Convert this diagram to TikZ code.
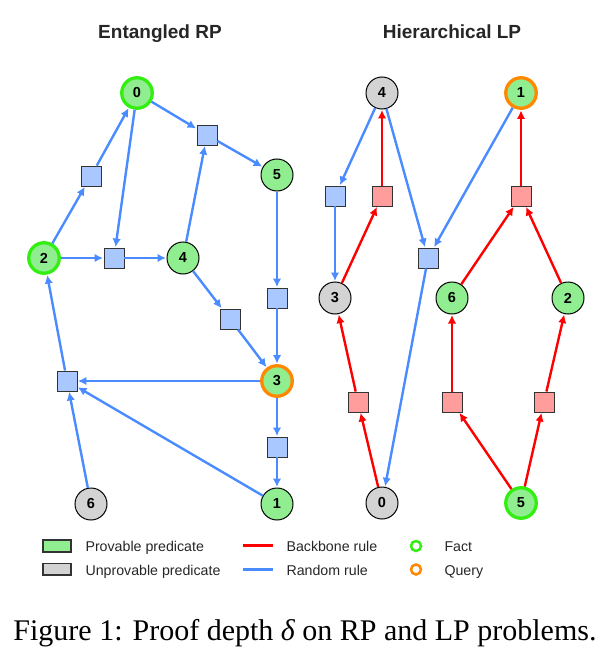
\documentclass[tikz,border=0pt]{standalone}
\usepackage{fontspec}
\setmainfont{Liberation Sans}
\newfontfamily\capfont{Liberation Serif}
\usepackage{tikz}
\usetikzlibrary{arrows.meta}
\definecolor{PGreen}{HTML}{90EE90}
\definecolor{PGray}{HTML}{D3D3D3}
\definecolor{RBlue}{HTML}{4A8CFF}
\definecolor{RBlueFill}{HTML}{A8C8FF}
\definecolor{RRed}{HTML}{FF0000}
\definecolor{RRedFill}{HTML}{FF9C9C}
\definecolor{FactRing}{HTML}{33EE11}
\definecolor{QueryRing}{HTML}{FF8800}
\definecolor{TxtGray}{HTML}{262626}

\begin{document}
\begin{tikzpicture}[x=1pt,y=-1pt,
  pred/.style={circle,draw=black,line width=1pt,minimum size=32pt,inner sep=0pt,font=\fontsize{14.5}{14.5}\selectfont\bfseries},
  prov/.style={pred,fill=PGreen},
  unprov/.style={pred,fill=PGray},
  fact/.style={prov,draw=FactRing,line width=3.3pt,minimum size=30.5pt},
  query/.style={prov,draw=QueryRing,line width=3.3pt,minimum size=30.5pt},
  rulebox/.style={rectangle,draw=black!80,line width=0.9pt,minimum size=20pt,inner sep=0pt},
  brule/.style={rulebox,fill=RBlueFill},
  rrule/.style={rulebox,fill=RRedFill},
  rnd/.style={RBlue,line width=2.4pt,-{Latex[length=8.5pt,width=8.5pt]},shorten >=0.5pt},
  bkb/.style={RRed,line width=2.4pt,-{Latex[length=8.5pt,width=8.5pt]},shorten >=0.5pt},
  legtxt/.style={anchor=base west,text=TxtGray,font=\fontsize{14.2}{14.2}\selectfont}]
\path[use as bounding box] (0,0) rectangle (612,663);
\node[anchor=base,text=TxtGray,font=\fontsize{19}{19}\selectfont\bfseries] (ttlRP) at (160,38.5) {Entangled RP};
\node[anchor=base,text=TxtGray,font=\fontsize{19}{19}\selectfont\bfseries] (ttlLP) at (452,38.5) {Hierarchical LP};
\node[fact] (e0) at (137,93) {0};
\node[prov] (e1) at (277,504) {1};
\node[fact] (e2) at (44,258) {2};
\node[query] (e3) at (277,381) {3};
\node[prov] (e4) at (183,258) {4};
\node[prov] (e5) at (277,175) {5};
\node[unprov] (e6) at (91,504) {6};
\node[brule] (er1) at (91,176) {};
\node[brule] (er2) at (114,258) {};
\node[brule] (er3) at (207,135) {};
\node[brule] (er4) at (277,298) {};
\node[brule] (er5) at (230,319) {};
\node[brule] (er6) at (67,381) {};
\node[brule] (er7) at (277,447) {};
\draw[rnd] (e2) -- (er1);
\draw[rnd] (er1) -- (e0);
\draw[rnd] (e0) -- (er2);
\draw[rnd] (e2) -- (er2);
\draw[rnd] (er2) -- (e4);
\draw[rnd] (e0) -- (er3);
\draw[rnd] (e4) -- (er3);
\draw[rnd] (er3) -- (e5);
\draw[rnd] (e5) -- (er4);
\draw[rnd] (er4) -- (e3);
\draw[rnd] (e4) -- (er5);
\draw[rnd] (er5) -- (e3);
\draw[rnd] (e3) -- (er6);
\draw[rnd] (e1) -- (er6);
\draw[rnd] (e6) -- (er6);
\draw[rnd] (er6) -- (e2);
\draw[rnd] (e3) -- (er7);
\draw[rnd] (er7) -- (e1);
\node[unprov] (h0) at (382,503) {0};
\node[query] (h1) at (521,93) {1};
\node[prov] (h2) at (568,298) {2};
\node[unprov] (h3) at (335,298) {3};
\node[unprov] (h4) at (382,93) {4};
\node[fact] (h5) at (521,503) {5};
\node[prov] (h6) at (452,298) {6};
\node[brule] (hr1) at (335,196) {};
\node[rrule] (hr2) at (382,196) {};
\node[brule] (hr3) at (428,258) {};
\node[rrule] (hr4) at (521,196) {};
\node[rrule] (hr5) at (358,402) {};
\node[rrule] (hr6) at (452,402) {};
\node[rrule] (hr7) at (544,402) {};
\draw[rnd] (h4) -- (hr1);
\draw[rnd] (hr1) -- (h3);
\draw[bkb] (h3) -- (hr2);
\draw[bkb] (hr2) -- (h4);
\draw[rnd] (h4) -- (hr3);
\draw[rnd] (h1) -- (hr3);
\draw[rnd] (hr3) -- (h0);
\draw[bkb] (h6) -- (hr4);
\draw[bkb] (h2) -- (hr4);
\draw[bkb] (hr4) -- (h1);
\draw[bkb] (h0) -- (hr5);
\draw[bkb] (hr5) -- (h3);
\draw[bkb] (h5) -- (hr6);
\draw[bkb] (hr6) -- (h6);
\draw[bkb] (h5) -- (hr7);
\draw[bkb] (hr7) -- (h2);
\draw[fill=PGreen,draw=black!80,line width=1.5pt] (43,540) rectangle (71,552);
\node[legtxt] (lgProv) at (82,551) {Provable predicate};
\draw[fill=PGray,draw=black!80,line width=1.5pt] (43,563.5) rectangle (71,575);
\node[legtxt] (lgUnprov) at (82,575) {Unprovable predicate};
\draw[RRed,line width=2.5pt] (243,545.5) -- (273,545.5);
\node[legtxt] (lgBkb) at (283,551) {Backbone rule};
\draw[RBlue,line width=2.5pt] (243,569.5) -- (273,569.5);
\node[legtxt] (lgRnd) at (283,575) {Random rule};
\draw[FactRing,line width=2.5pt] (416,546) circle (5pt);
\node[legtxt] (lgFact) at (441,551) {Fact};
\draw[QueryRing,line width=2.5pt] (416,569.5) circle (5pt);
\node[legtxt] (lgQuery) at (441,575) {Query};
\node[anchor=base,font=\capfont\fontsize{30}{30}\selectfont] (caption) at (305,640) {Figure 1: Proof depth {\itshape δ} on RP and LP problems.};
\end{tikzpicture}
\end{document}
